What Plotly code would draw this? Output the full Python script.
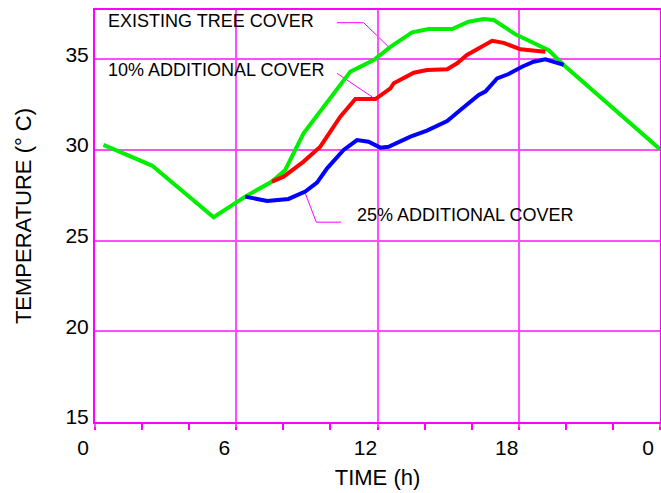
import plotly.graph_objects as go

# ---- data ----
existing_t = [0.36, 2.42, 5.04, 6.38, 7.52, 8.08, 8.86, 10.0, 10.85, 11.84, 12.55, 13.47,
              14.17, 15.17, 15.87, 16.51, 16.94, 17.86, 19.27, 19.91, 24.0]
existing_T = [30.28, 29.14, 26.29, 27.43, 28.26, 28.9, 30.92, 32.85, 34.32, 34.96, 35.69, 36.49,
              36.67, 36.67, 37.07, 37.22, 37.17, 36.38, 35.51, 34.69, 30.04]

add10_t = [7.52, 8.01, 8.86, 9.57, 10.42, 11.06, 11.91, 12.55, 12.69, 13.54, 14.1, 14.96,
           15.38, 15.8, 16.87, 17.36, 18.07, 19.13]
add10_T = [28.26, 28.53, 29.36, 30.18, 31.84, 32.81, 32.81, 33.40, 33.68, 34.26, 34.41, 34.45,
           34.78, 35.24, 36.02, 35.91, 35.55, 35.42]

add25_t = [6.38, 7.31, 8.22, 8.93, 9.43, 9.86, 10.56, 11.13, 11.62, 12.12, 12.47, 13.4,
           14.1, 14.96, 15.52, 16.3, 16.58, 17.08, 17.57, 18.14, 18.63, 19.13, 19.91]
add25_T = [27.43, 27.19, 27.30, 27.71, 28.2, 28.99, 30.0, 30.55, 30.46, 30.13, 30.18, 30.74,
           31.07, 31.6, 32.21, 33.03, 33.22, 33.95, 34.19, 34.59, 34.87, 35.0, 34.69]

x_tickvals = [0, 6, 12, 18, 24]
x_ticktext = ["0", "6", "12", "18", "0"]
y_tickvals = [15, 20, 25, 30, 35]

labels = ["EXISTING TREE COVER", "10% ADDITIONAL COVER", "25% ADDITIONAL COVER"]
label_pos = [(0.48, 37.11), (0.48, 34.41), (11.05, 26.42)]
leader_paths = [
    [(10.28, 37.02), (11.41, 37.02), (12.47, 35.69)],
    [(10.28, 34.23), (11.78, 32.92)],
    [(10.45, 26.02), (9.40, 26.02), (8.93, 27.62)],
]

MAG = "#ff00ff"
GRID = "#ff4dff"

fig = go.Figure()
fig.add_trace(go.Scatter(x=existing_t, y=existing_T, mode="lines",
                         line=dict(color="#00ee00", width=4), name=labels[0]))
fig.add_trace(go.Scatter(x=add10_t, y=add10_T, mode="lines",
                         line=dict(color="#ff0000", width=4), name=labels[1]))
fig.add_trace(go.Scatter(x=add25_t, y=add25_T, mode="lines",
                         line=dict(color="#0000ff", width=4), name=labels[2]))

for txt, (lx, ly) in zip(labels, label_pos):
    fig.add_annotation(x=lx, y=ly, text=txt, showarrow=False, xanchor="left", yanchor="middle",
                       font=dict(family="Liberation Sans, Arial, sans-serif", size=18, color="#000000"))

for path in leader_paths:
    d = "M " + " L ".join(f"{px},{py}" for px, py in path)
    fig.add_shape(type="path", path=d, xref="x", yref="y", line=dict(color=MAG, width=1), layer="below")

fig.update_layout(
    width=661, height=493,
    margin=dict(l=95, r=1, t=10, b=71, autoexpand=False),
    paper_bgcolor="white", plot_bgcolor="white",
    showlegend=False, hovermode=False,
    font=dict(family="Liberation Sans, Arial, sans-serif", color="#000000"),
)
fig.update_xaxes(
    range=[0, 24], tickvals=x_tickvals, ticktext=x_ticktext, automargin=False,
    tickfont=dict(size=21), ticks="outside", ticklen=3, tickcolor=GRID, tickwidth=1.5,
    ticklabelshift=-12, ticklabelstandoff=3,
    minor=dict(dtick=2, tick0=0, ticks="outside", ticklen=6, tickcolor=MAG, tickwidth=1.5, showgrid=False),
    showgrid=True, gridcolor=GRID, gridwidth=1.5,
    showline=True, linecolor=MAG, linewidth=2, mirror=True, zeroline=False,
    title=dict(text="TIME (h)", font=dict(size=22), standoff=11),
)
fig.update_yaxes(
    range=[15, 37.72], tickvals=y_tickvals, tickfont=dict(size=21), ticks="", automargin=False,
    ticklabelshift=-5,
    showgrid=True, gridcolor=GRID, gridwidth=1.5,
    showline=True, linecolor=MAG, linewidth=2, mirror=True, zeroline=False,
    title=dict(text="TEMPERATURE (° C)", font=dict(size=22), standoff=28),
)

fig.write_html("out.html", config={"displayModeBar": False},
               post_script="document.body.style.margin='0';document.body.style.overflow='hidden';")
